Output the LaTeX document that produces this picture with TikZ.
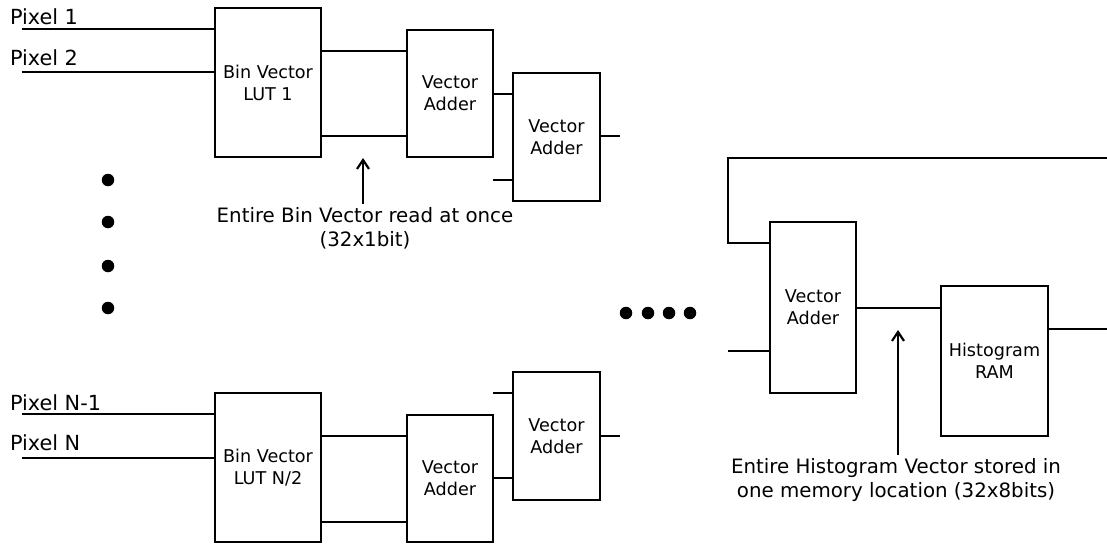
\documentclass[tikz,border=0pt]{standalone}
\usepackage{fontspec}
\setmainfont{DejaVu Sans}
\usetikzlibrary{arrows.meta}
\tikzset{
  ln/.style={line width=2.1pt, line cap=butt},
  blk/.style={draw, line width=2.1pt, inner sep=0pt, outer sep=0pt, align=center,
    font=\fontsize{17.6}{22}\selectfont},
  lbl/.style={inner sep=0pt, outer sep=0pt, font=\fontsize{20.8}{25}\selectfont},
  note/.style={inner xsep=0pt, inner ysep=3pt, outer sep=0pt, align=center,
    font=\fontsize{19.8}{24.5}\selectfont},
  arr/.style={line width=2pt, -{Straight Barb[length=9pt,width=12pt,line width=2.2pt]}},
  dot/.style={circle, fill=black, minimum size=12.5pt, inner sep=0pt}
}
\begin{document}
\begin{tikzpicture}[x=1pt,y=-1pt]
\useasboundingbox (0,0) rectangle (1107,543);

% pixel labels
\node[lbl, anchor=base west] (pix1) at (10,25) {Pixel 1};
\node[lbl, anchor=base west] (pix2) at (10,65) {Pixel 2};
\node[lbl, anchor=base west] (pixN1) at (10,410) {Pixel N-1};
\node[lbl, anchor=base west] (pixN) at (10,450) {Pixel N};

% blocks
\node[blk, minimum width=106, minimum height=149] (lut1) at (268,82.5) {Bin Vector\\LUT 1};
\node[blk, minimum width=86, minimum height=127] (add1) at (450,93.5) {Vector\\Adder};
\node[blk, minimum width=87, minimum height=128] (add2) at (556.5,137) {Vector\\Adder};
\node[blk, minimum width=106, minimum height=149] (lutN) at (268,467.5) {Bin Vector\\LUT N/2};
\node[blk, minimum width=86, minimum height=127] (add3) at (450,478.5) {Vector\\Adder};
\node[blk, minimum width=87, minimum height=128] (add4) at (556.5,436) {Vector\\Adder};
\node[blk, minimum width=86, minimum height=171] (add5) at (813,307.5) {Vector\\Adder};
\node[blk, minimum width=107, minimum height=150] (ram) at (994.5,361) {Histogram\\RAM};

% helper coordinates
\coordinate (p1) at (22,29);
\coordinate (p2) at (22,72);
\coordinate (pN1) at (22,414);
\coordinate (pN) at (22,458);
\coordinate (y51) at (0,51);
\coordinate (y136) at (0,136);
\coordinate (y94) at (0,94);
\coordinate (s1) at (493,180);
\coordinate (o1) at (620,136);
\coordinate (y436) at (0,436);
\coordinate (y522) at (0,522);
\coordinate (y478) at (0,478);
\coordinate (s2) at (493,393);
\coordinate (o2) at (620,436);
\coordinate (fbR) at (1107,158);
\coordinate (fbL) at (728,243);
\coordinate (in5) at (728,351);
\coordinate (y308) at (0,308);
\coordinate (o3) at (1107,329);

% connectors, top group
\draw[ln] (p1) -- (p1 -| lut1.west);
\draw[ln] (p2) -- (p2 -| lut1.west);
\draw[ln] (lut1.east |- y51) -- (add1.west |- y51);
\draw[ln] (lut1.east |- y136) -- (add1.west |- y136);
\draw[ln] (add1.east |- y94) -- (add2.west |- y94);
\draw[ln] (s1) -- (s1 -| add2.west);
\draw[ln] (add2.east |- o1) -- (o1);

% connectors, bottom group
\draw[ln] (pN1) -- (pN1 -| lutN.west);
\draw[ln] (pN) -- (pN -| lutN.west);
\draw[ln] (lutN.east |- y436) -- (add3.west |- y436);
\draw[ln] (lutN.east |- y522) -- (add3.west |- y522);
\draw[ln] (add3.east |- y478) -- (add4.west |- y478);
\draw[ln] (s2) -- (s2 -| add4.west);
\draw[ln] (add4.east |- o2) -- (o2);

% right group
\draw[ln] (fbR) -| (fbL) -- (fbL -| add5.west);
\draw[ln] (in5) -- (in5 -| add5.west);
\draw[ln] (add5.east |- y308) -- (ram.west |- y308);
\draw[ln] (ram.east |- o3) -- (o3);

% dots
\node[dot] (d1) at (108,180) {};
\node[dot] (d2) at (108,222) {};
\node[dot] (d3) at (108,266) {};
\node[dot] (d4) at (108,308) {};
\node[dot] (h1) at (626,313) {};
\node[dot] (h2) at (648,313) {};
\node[dot] (h3) at (669,313) {};
\node[dot] (h4) at (690,313) {};

% annotations
\node[note, anchor=base] (note1) at (365,246.5) {Entire Bin Vector read at once\\(32x1bit)};
\coordinate (a1tip) at (363,158);
\draw[arr] (note1.north -| a1tip) -- (a1tip);

\node[note, anchor=base] (note2) at (896,497.5) {Entire Histogram Vector stored in\\one memory location (32x8bits)};
\coordinate (a2tip) at (898,330);
\draw[arr] (note2.north -| a2tip) -- (a2tip);
\end{tikzpicture}
\end{document}
